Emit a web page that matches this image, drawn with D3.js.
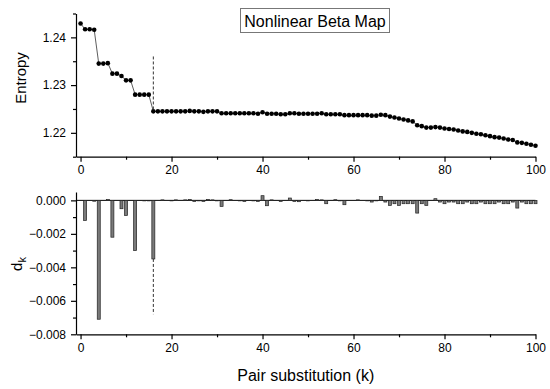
<!DOCTYPE html>
<html>
<head>
<meta charset="utf-8">
<script src="https://cdn.jsdelivr.net/npm/d3@7"></script>
<style>
body { margin: 0; background: #fff; }
text { font-family: Arial, "Liberation Sans", sans-serif; fill: #000; }
.axis path, .axis line { stroke: #000; stroke-width: 1.2; }
</style>
</head>
<body>
<svg id="chart" width="550" height="389"></svg>
<script>
// Data
var ks = d3.range(0, 101);
var entropy = [
	1.2429, 1.2417, 1.2417, 1.2416, 1.2345, 1.2345, 1.2346, 1.2324, 1.2324, 1.2319,
	1.2310, 1.2310, 1.2280, 1.2280, 1.2280, 1.2280, 1.2245, 1.2245, 1.2245, 1.2245,
	1.2245, 1.2245, 1.2245, 1.2245, 1.2246, 1.2245, 1.2245, 1.2244, 1.2245, 1.2245,
	1.2245, 1.2241, 1.2241, 1.2241, 1.2241, 1.2241, 1.2241, 1.2241, 1.2241, 1.2240,
	1.2243, 1.2240, 1.2240, 1.2240, 1.2239, 1.2239, 1.2241, 1.2241, 1.2240, 1.2240,
	1.2240, 1.2240, 1.2240, 1.2241, 1.2239, 1.2239, 1.2239, 1.2239, 1.2237, 1.2237,
	1.2237, 1.2237, 1.2237, 1.2237, 1.2236, 1.2236, 1.2238, 1.2237, 1.2234, 1.2232,
	1.2230, 1.2228, 1.2226, 1.2224, 1.2216, 1.2214, 1.2211, 1.2211, 1.2212, 1.2211,
	1.2209, 1.2208, 1.2207, 1.2205, 1.2203, 1.2202, 1.2200, 1.2198, 1.2197, 1.2195,
	1.2193, 1.2191, 1.2190, 1.2188, 1.2186, 1.2185, 1.2180, 1.2179, 1.2177, 1.2175,
	1.2173
];
var dk = [
	0, -0.0012, 0, -0.00005, -0.0071, 0, 0.00005, -0.0022, 0, -0.0005,
	-0.0009, 0, -0.0030, 0, -0.00003, -0.00003, -0.0035, 0, 0.00003, 0,
	-0.00003, 0.00003, 0, 0.00003, 0.00006, -0.00006, -0.00003, -0.00006, 0.00006, 0.00003,
	-0.00003, -0.00036, 0, 0.00004, 0, -0.00003, -0.00006, 0, -0.00003, -0.00006,
	0.00028, -0.00032, 0.00003, 0, -0.00006, 0, 0.00014, -0.00006, -0.00008, 0,
	-0.00003, 0, 0.00006, 0.00003, -0.0002, 0, 0.00004, -0.00003, -0.00026, 0,
	0, 0.00003, 0, -0.00003, -0.0001, -0.00003, 0.00024, -0.0001, -0.0003, -0.0002,
	-0.0003, -0.0002, -0.0002, -0.0002, -0.00076, -0.0002, -0.0003, 0, 0.0001, -0.0001,
	-0.0002, -0.0001, -0.0001, -0.0002, -0.0002, -0.0001, -0.0002, -0.0002, -0.0001, -0.0002,
	-0.0002, -0.0002, -0.0001, -0.0002, -0.0002, -0.0001, -0.00046, -0.0001, -0.0002, -0.0002,
	-0.0002
];
var xTicks = [0, 20, 40, 60, 80, 100];
var xMinor = [10, 30, 50, 70, 90];
var entropyTicks = [1.22, 1.23, 1.24];
var entropyMinor = [1.215, 1.225, 1.235, 1.245];
var dkTicks = [-0.008, -0.006, -0.004, -0.002, 0];
var dkMinor = [-0.007, -0.005, -0.003, -0.001];
var markK = 16;

var svg = d3.select("#chart");

// Shared x scale
var x = d3.scaleLinear().domain([-1, 100]).range([76, 535.5]);

var yTop = d3.scaleLinear().domain([1.215, 1.245]).range([156.7, 13.5]);
var yBot = d3.scaleLinear().domain([-0.008, 0.0005]).range([334.3, 192]);

function drawAxes(yScale, yMajor, yMinor, fmt, baseY)
{
	var gx = svg.append("g").attr("class", "axis")
		.attr("transform", "translate(0," + baseY + ")")
		.call(d3.axisBottom(x).tickValues(xTicks).tickSize(5).tickSizeOuter(0).tickPadding(4));
	gx.selectAll("text").style("font-size", "12px");
	svg.append("g").attr("class", "axis")
		.attr("transform", "translate(0," + baseY + ")")
		.call(d3.axisBottom(x).tickValues(xMinor).tickSize(3).tickSizeOuter(0).tickFormat(""))
		.select(".domain").remove();

	var gy = svg.append("g").attr("class", "axis")
		.attr("transform", "translate(" + x.range()[0] + ",0)")
		.call(d3.axisLeft(yScale).tickValues(yMajor).tickSize(5).tickSizeOuter(0).tickPadding(5).tickFormat(fmt));
	gy.selectAll("text").style("font-size", "12px");
	svg.append("g").attr("class", "axis")
		.attr("transform", "translate(" + x.range()[0] + ",0)")
		.call(d3.axisLeft(yScale).tickValues(yMinor).tickSize(3).tickSizeOuter(0).tickFormat(""))
		.select(".domain").remove();
}

/*************
* Top panel *
*************/
drawAxes(yTop, entropyTicks, entropyMinor, d3.format(".2f"), 156.7);

var line = d3.line()
	.x(function(d, i) { return x(ks[i]); })
	.y(function(d) { return yTop(d); });
svg.append("path")
	.datum(entropy)
	.attr("d", line)
	.attr("fill", "none")
	.attr("stroke", "#333")
	.attr("stroke-width", 0.8);

svg.selectAll(".dot")
	.data(entropy)
	.enter()
	.append("circle")
	.attr("class", "dot")
	.attr("cx", function(d, i) { return x(ks[i]); })
	.attr("cy", function(d) { return yTop(d); })
	.attr("r", 2.3)
	.attr("fill", "#000");

svg.append("line")
	.attr("x1", x(markK)).attr("x2", x(markK))
	.attr("y1", yTop(1.2360)).attr("y2", yTop(entropy[markK] + 0.0003))
	.attr("stroke", "#333").attr("stroke-width", 1)
	.attr("stroke-dasharray", "3,2");

// Title box
var titleG = svg.append("g");
titleG.append("rect")
	.attr("x", 240.5).attr("y", 8.5)
	.attr("width", 149).attr("height", 24)
	.attr("fill", "#fff").attr("stroke", "#777").attr("stroke-width", 1);
titleG.append("text")
	.attr("x", 315).attr("y", 26.5)
	.attr("text-anchor", "middle")
	.style("font-size", "16px")
	.text("Nonlinear Beta Map");

svg.append("text")
	.attr("transform", "translate(26,78) rotate(-90)")
	.attr("text-anchor", "middle")
	.style("font-size", "15px")
	.text("Entropy");

/****************
* Bottom panel *
****************/
drawAxes(yBot, dkTicks, dkMinor, d3.format(".3f"), 334.3);

// Zero line
svg.append("line")
	.attr("x1", x.range()[0]).attr("x2", x.range()[1])
	.attr("y1", yBot(0)).attr("y2", yBot(0))
	.attr("stroke", "#000").attr("stroke-width", 1);

var barHalf = 0.33;
svg.selectAll(".bar")
	.data(dk)
	.enter()
	.append("rect")
	.attr("class", "bar")
	.attr("x", function(d, i) { return x(ks[i] - barHalf); })
	.attr("width", x(barHalf) - x(-barHalf))
	.attr("y", function(d) { return yBot(Math.max(0, d)); })
	.attr("height", function(d) { return Math.abs(yBot(d) - yBot(0)); })
	.attr("fill", "#7a7a7a")
	.attr("stroke", "#222")
	.attr("stroke-width", 0.7);

svg.append("line")
	.attr("x1", x(markK)).attr("x2", x(markK))
	.attr("y1", yBot(dk[markK])).attr("y2", yBot(-0.0068))
	.attr("stroke", "#333").attr("stroke-width", 1)
	.attr("stroke-dasharray", "3,2");

var dLabel = svg.append("text")
	.attr("transform", "translate(22,264) rotate(-90)")
	.attr("text-anchor", "middle")
	.style("font-size", "15px");
dLabel.append("tspan").text("d");
dLabel.append("tspan").attr("dy", 4).style("font-size", "11px").text("k");

svg.append("text")
	.attr("x", (x.range()[0] + x.range()[1]) / 2)
	.attr("y", 381)
	.attr("text-anchor", "middle")
	.style("font-size", "16px")
	.text("Pair substitution (k)");
</script>
</body>
</html>
